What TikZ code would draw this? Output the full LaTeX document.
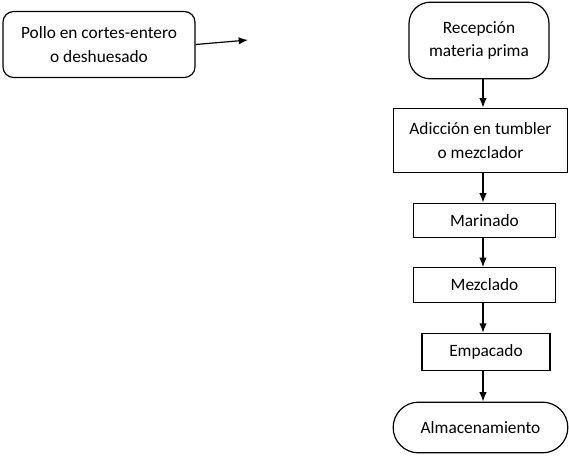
\documentclass[tikz,border=0pt]{standalone}
\usepackage{fontspec}
\setmainfont{Carlito}
\usetikzlibrary{positioning,arrows.meta}

\tikzset{
  proc/.style={draw, rectangle, align=center, inner sep=0pt},
  term/.style={draw, rectangle, rounded corners=16pt, align=center, inner sep=0pt},
  flow/.style={-{Latex[length=7pt,width=5.5pt]}, line width=0.9pt}
}

\begin{document}
\begin{tikzpicture}[x=0.75pt, y=-0.75pt, line width=0.9pt,
    font=\fontsize{13}{17.5}\selectfont]
  \useasboundingbox (0,0) rectangle (569,455);
  \node [draw, rounded corners=8pt, align=center, minimum width=144pt, minimum height=49.5pt] (pollo) at (99,44.5) {Pollo en cortes-entero\\o deshuesado};
  \coordinate (libre) at (248,40);
  \node [term, minimum width=105pt, minimum height=57.5pt] (recepcion) at (479,40.5) {Recepción\\materia prima};
  \node [proc, minimum width=130pt, minimum height=48.5pt] (adicion) at (480.5,140.5) {Adicción en tumbler\\o mezclador};
  \node [proc, minimum width=107pt, minimum height=26pt] (marinado) at (484.5,220.5) {Marinado};
  \node [proc, minimum width=107pt, minimum height=26pt] (mezclado) at (484.5,285) {Mezclado};
  \node [proc, minimum width=96pt, minimum height=28pt] (empacado) at (486,352) {Empacado};
  \node [draw, rounded corners=19pt, minimum width=131pt, minimum height=38pt] (almacen) at (480.5,427.5) {Almacenamiento};
  \draw [flow] (pollo.east) -- (libre);
  \draw [flow] (recepcion.south -| 483,0) -- (adicion.north -| 483,0);
  \draw [flow] (adicion.south -| 483,0) -- (marinado.north -| 483,0);
  \draw [flow] (marinado.south -| 483,0) -- (mezclado.north -| 483,0);
  \draw [flow] (mezclado.south -| 483,0) -- (empacado.north -| 483,0);
  \draw [flow] (empacado.south -| 483,0) -- (almacen.north -| 483,0);
\end{tikzpicture}
\end{document}
